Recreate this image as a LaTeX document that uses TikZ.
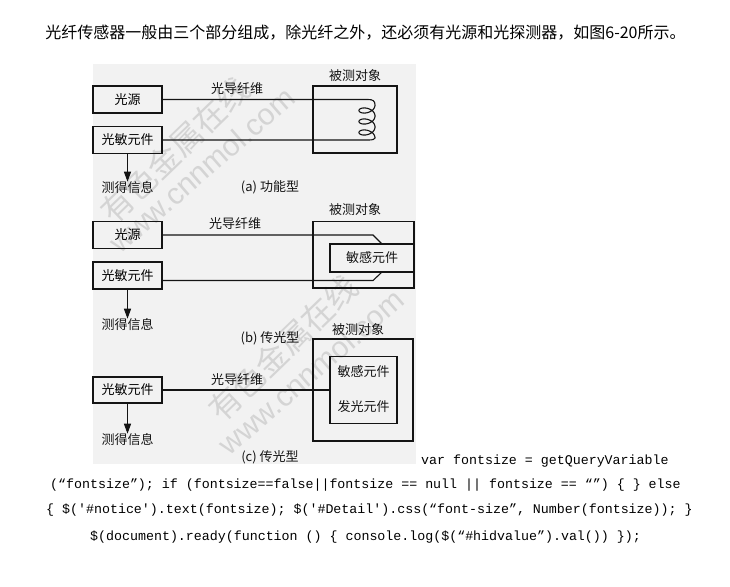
\documentclass[tikz,border=0pt]{standalone}
\usepackage{fontspec}
\setmainfont{Liberation Serif}
\newfontfamily\cjk{Noto Sans CJK SC}
\newfontfamily\codefont{Liberation Mono}
\newfontfamily\wmsans{Liberation Sans}
\usetikzlibrary{arrows.meta,calc}
\definecolor{panelgray}{RGB}{242,242,242}
\definecolor{linegray}{RGB}{20,20,20}
\definecolor{wmgray}{RGB}{212,212,212}
\begin{document}
\begin{tikzpicture}[x=1pt,y=-1pt,
  box/.style={draw=linegray,line width=1.2pt,minimum width=69pt,inner sep=0pt,font=\cjk\fontsize{13}{13}\selectfont},
  objbox/.style={draw=linegray,line width=1.2pt,inner sep=0pt},
  lbl/.style={inner sep=0pt,font=\cjk\fontsize{13}{13}\selectfont,text=linegray},
  fiber/.style={draw=linegray,line width=1.1pt},
  outarrow/.style={draw=linegray,line width=1.1pt,-{Triangle[width=7pt,length=10pt]}},
  wmzh/.style={text=wmgray,inner sep=0pt,rotate=44,font=\cjk\fontsize{32}{32}\selectfont},
  wmen/.style={text=wmgray,inner sep=0pt,rotate=41,font=\wmsans\fontsize{30}{30}\selectfont},
  codeline/.style={anchor=west,inner sep=0pt,font=\codefont\fontsize{13.3}{13.3}\selectfont},
]
\useasboundingbox[fill=white] (0,0) rectangle (730,586);

% top sentence
\node[inner sep=0pt,font=\cjk\fontsize{16}{16}\selectfont] (title) at (365.5,33)
  {光纤传感器一般由三个部分组成，除光纤之外，还必须有光源和光探测器，如图6-20所示。};

% panel
\fill[panelgray] (93,64) rectangle (416,464);

% watermark
\node[wmzh] (wm1) at (175,150) {有色金属在线};
\node[wmen] (wm2) at (202,170) {www.cnnmol.com};
\node[wmzh] (wm3) at (283,348) {有色金属在线};
\node[wmen] (wm4) at (311,372) {www.cnnmol.com};

% ---------------- (a) ----------------
\node[box,minimum height=27pt] (srcA) at (127.5,99.5) {光源};
\node[box,minimum height=27pt] (detA) at (127.5,140) {光敏元件};
\node[objbox,minimum width=84pt,minimum height=67pt] (objA) at (355,119.5) {};
\node[lbl] (objAlbl) at (355,76) {被测对象};
\node[lbl] (fibAlbl) at (237,89) {光导纤维};
\coordinate (coilTop) at (368,99.5);
\coordinate (coilBot) at (369,140);
\draw[fiber] (srcA.east) -- (coilTop) .. controls (373,99.5) and (375,101) .. (375,105)
  -- plot[domain=0:18.85,samples=180,smooth,variable=\t] ({367+8*cos(\t r)},{105+1.75*\t+5*sin(\t r)})
  .. controls (375,139) and (373,140) .. (coilBot) -- (detA.east);
\node[lbl] (infoA) at (127.5,188) {测得信息};
\draw[outarrow] (detA.south) -- (infoA.north);
\node[lbl] (capA) at (270,187) {(a) 功能型};

% ---------------- (b) ----------------
\node[box,minimum height=27pt] (srcB) at (127.5,235) {光源};
\node[box,minimum height=27pt] (detB) at (127.5,275.5) {光敏元件};
\node[objbox,minimum width=101pt,minimum height=66.5pt] (objB) at (363.5,254.75) {};
\node[objbox,lbl,minimum width=84pt,minimum height=28pt] (sensB) at (372,258) {敏感元件};
\node[lbl] (objBlbl) at (355,210) {被测对象};
\node[lbl] (fibBlbl) at (235,224) {光导纤维};
\coordinate (bTopIn) at (382,244);
\coordinate (bBotIn) at (382,272);
\draw[fiber] (srcB.east) -- (373,235) -- (bTopIn);
\draw[fiber] ($(detB.east)+(0,5)$) -- (373,280.5) -- (bBotIn);
\node[lbl] (infoB) at (127.5,325) {测得信息};
\draw[outarrow] (detB.south) -- (infoB.north);
\node[lbl] (capB) at (270,338) {(b) 传光型};

% ---------------- (c) ----------------
\node[box,minimum height=26pt] (detC) at (127.5,390) {光敏元件};
\node[objbox,minimum width=100pt,minimum height=102pt] (objC) at (363,390) {};
\node[objbox,minimum width=67pt,minimum height=67pt] (innerC) at (363.5,390) {};
\node[lbl] (sensC) at (363.5,372) {敏感元件};
\node[lbl] (emitC) at (363.5,407) {发光元件};
\node[lbl] (objClbl) at (358,330) {被测对象};
\node[lbl] (fibClbl) at (237,380) {光导纤维};
\draw[fiber] (detC.east) -- (innerC.west);
\node[lbl] (infoC) at (127.5,440) {测得信息};
\draw[outarrow] (detC.south) -- (infoC.north);
\node[lbl] (capC) at (270,457) {(c) 传光型};

% code text
\node[codeline] (code1) at (421,461) {var fontsize = getQueryVariable};
\node[codeline] (code2) at (50,485) {(“fontsize”); if (fontsize==false||fontsize == null || fontsize == “”) \{ \} else};
\node[codeline] (code3) at (46,510) {\{ \$('\#notice').text(fontsize); \$('\#Detail').css(“font-size”, Number(fontsize)); \}};
\node[codeline] (code4) at (90,537) {\$(document).ready(function () \{ console.log(\$(“\#hidvalue”).val()) \});};
\end{tikzpicture}
\end{document}
